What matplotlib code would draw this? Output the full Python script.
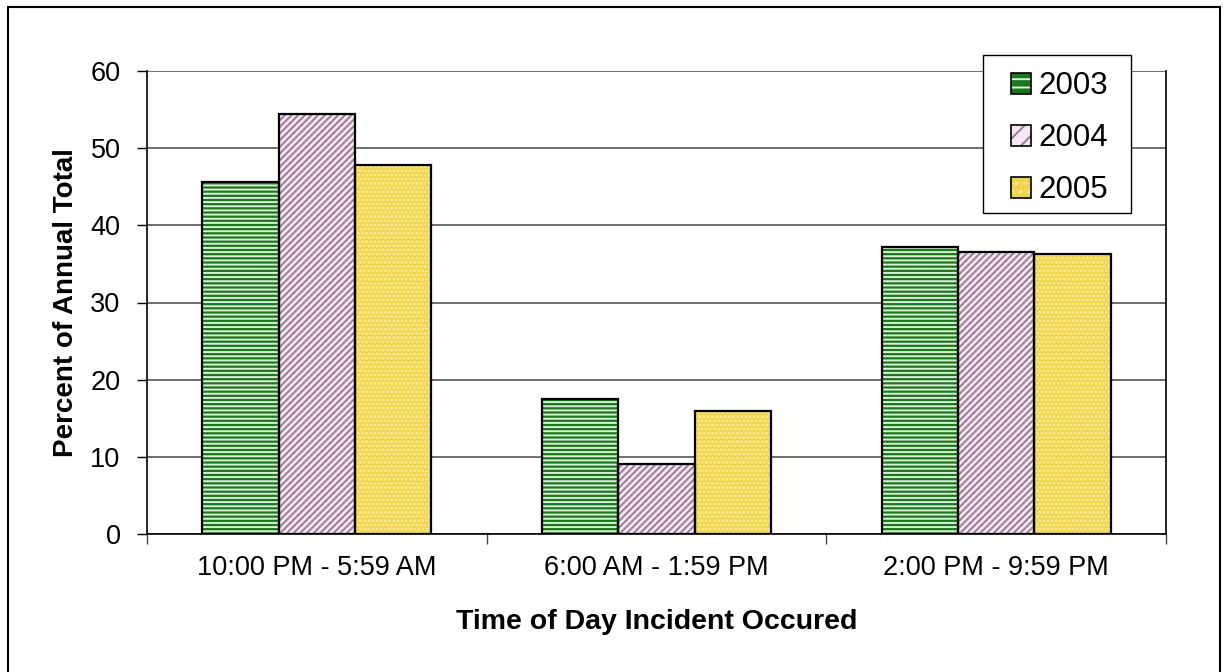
import numpy as np
import matplotlib.pyplot as plt
from matplotlib.patches import Rectangle
from matplotlib.legend_handler import HandlerTuple

plt.rcParams['font.family'] = ['Liberation Sans', 'DejaVu Sans']
plt.rcParams['hatch.linewidth'] = 1.4

# ---- data ----
categories = ['10:00 PM - 5:59 AM', '6:00 AM - 1:59 PM', '2:00 PM - 9:59 PM']
years = ['2003', '2004', '2005']
v2003 = [45.6, 17.5, 37.2]
v2004 = [54.4, 9.1, 36.5]
v2005 = [47.8, 15.9, 36.3]
y_ticks = [0, 10, 20, 30, 40, 50, 60]

series = [v2003, v2004, v2005]
styles = [
    dict(face='#1c761c', hatch='----', hcol='#d8f2d8'),
    dict(face='#f4e6f2', hatch='/////', hcol='#9c7a94'),
    dict(face='#f2d54e', hatch='....', hcol='#f9eb9a'),
]

W, H = 1228, 672
fig = plt.figure(figsize=(W / 100, H / 100), dpi=100)
ax = fig.add_axes([147 / W, 1 - 534 / H, (1166 - 147) / W, (534 - 71) / H])

x = np.arange(len(categories)) + 0.5
w = 0.225
handles = []
for i, (vals, st) in enumerate(zip(series, styles)):
    pos = x + (i - 1) * w
    ax.bar(pos, vals, w, color=st['face'], hatch=st['hatch'],
           edgecolor=st['hcol'], linewidth=0, zorder=2)
    ax.bar(pos, vals, w, fill=False, edgecolor='black', linewidth=1.6, zorder=3)
    h1 = Rectangle((0, 0), 1, 1, facecolor=st['face'], hatch=st['hatch'][:2],
                   edgecolor=st['hcol'], linewidth=0)
    h2 = Rectangle((0, 0), 1, 1, fill=False, edgecolor='black', linewidth=1.2)
    handles.append((h1, h2))

ax.set_xlim(0, 3)
ax.set_ylim(0, 60)
ax.set_yticks(y_ticks)
ax.tick_params(axis='y', labelsize=19.5, length=7, width=1, direction='out', pad=12)
ax.set_xticks([0, 1, 2, 3])
ax.set_xticklabels([])
ax.set_xticks(x, minor=True)
ax.set_xticklabels(categories, minor=True, fontsize=19.5)
ax.tick_params(axis='x', which='major', length=7, width=1, direction='out',
               color='#444444')
ax.tick_params(axis='x', which='minor', length=0, pad=15)
ax.yaxis.grid(True, color='#555555', linewidth=1.2, zorder=0)
ax.set_axisbelow(True)
ax.spines['top'].set_visible(False)
for s in ['left', 'right', 'bottom']:
    ax.spines[s].set_linewidth(1.2)
    ax.spines[s].set_color('black')
ax.spines['bottom'].set_zorder(4)

ax.set_ylabel('Percent of Annual Total', fontsize=20, fontweight='bold', labelpad=8)
ax.set_xlabel('Time of Day Incident Occured', fontsize=20.5, fontweight='bold', labelpad=20)

# legend box drawn separately so its size matches the original
fig.patches.append(Rectangle((983 / W, 1 - 213 / H), (1131 - 983) / W, (213 - 55) / H,
                             transform=fig.transFigure, facecolor='white',
                             edgecolor='black', linewidth=1.0, zorder=2))
leg = fig.legend(handles, years, loc='upper left',
                 bbox_to_anchor=(998 / W, 1 - 59 / H),
                 handler_map={tuple: HandlerTuple(ndivide=1)},
                 fontsize=22.5, frameon=False, borderaxespad=0,
                 handlelength=0.65, handleheight=0.65, handletextpad=0.25,
                 labelspacing=0.7, borderpad=0.4)
leg.set_zorder(5)

fig.patches.append(Rectangle((8 / W, -0.01), (1220 - 8) / W, 1.01 - 7 / H,
                             transform=fig.transFigure, fill=False,
                             edgecolor='black', linewidth=1.5))

fig.savefig('out.png', dpi=100)
